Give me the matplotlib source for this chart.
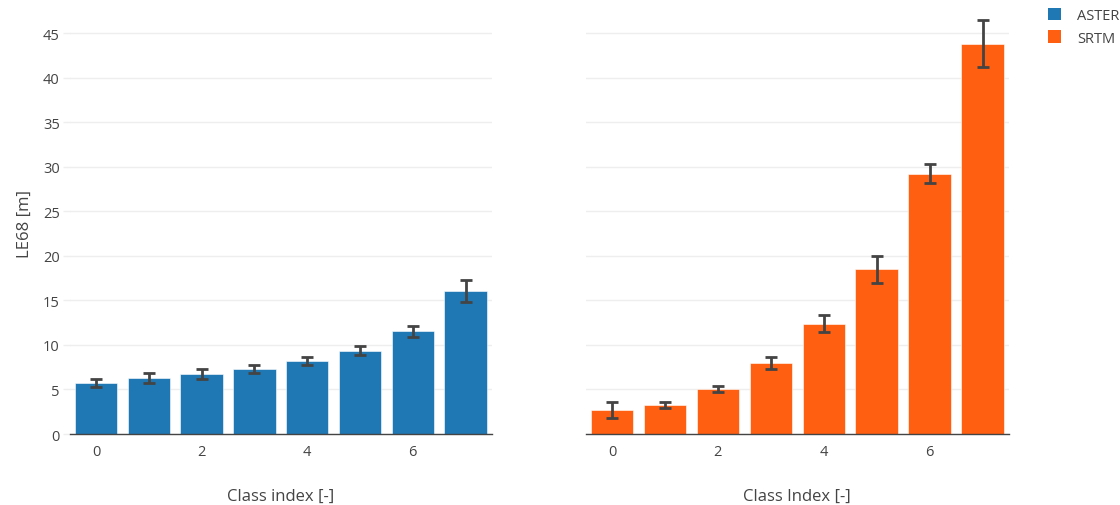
import numpy as np
import matplotlib.pyplot as plt
from matplotlib.patches import Patch

plt.rcParams['font.family'] = ['Open Sans', 'DejaVu Sans']

# Class indices and LE68 values
classes = [0, 1, 2, 3, 4, 5, 6, 7]
aster_le68 = [5.72, 6.32, 6.73, 7.33, 8.19, 9.35, 11.52, 16.05]
aster_err = [0.45, 0.58, 0.60, 0.47, 0.43, 0.50, 0.65, 1.23]
srtm_le68 = [2.69, 3.25, 5.05, 7.97, 12.38, 18.48, 29.25, 43.84]
srtm_err = [0.88, 0.37, 0.36, 0.70, 0.93, 1.50, 1.08, 2.60]

aster_color = '#1f77b4'
srtm_color = '#ff5f11'
text_color = '#444444'

fig = plt.figure(figsize=(11.2, 5.06), dpi=100)
ax1 = fig.add_axes([0.0621, 0.1403, 0.3772, 0.836])
ax2 = fig.add_axes([0.5228, 0.1403, 0.3781, 0.836])

panels = [
    (ax1, aster_le68, aster_err, aster_color, 'Class index [-]'),
    (ax2, srtm_le68, srtm_err, srtm_color, 'Class Index [-]'),
]

for ax, vals, errs, color, xlabel in panels:
    ax.bar(classes, vals, width=0.8, color=color, edgecolor='white',
           linewidth=0.4, zorder=2)
    ax.errorbar(classes, vals, yerr=errs, fmt='none', ecolor=text_color,
                elinewidth=2, capsize=4, capthick=2, zorder=3)
    ax.set_xlim(-0.5, 7.5)
    ax.set_ylim(0, 47.5)
    ax.set_yticks(np.arange(0, 46, 5))
    ax.set_xticks([0, 2, 4, 6])
    ax.grid(axis='y', color='#eeeeee', linewidth=1, zorder=0)
    ax.set_axisbelow(True)
    for side in ['top', 'right', 'left']:
        ax.spines[side].set_visible(False)
    ax.spines['bottom'].set_color(text_color)
    ax.spines['bottom'].set_linewidth(1)
    ax.tick_params(axis='x', length=0, pad=7, labelsize=10.5, colors=text_color)
    ax.tick_params(axis='y', length=5, width=1, color='#eeeeee', pad=2,
                   labelsize=10.5, labelcolor=text_color)
    ax.set_xlabel(xlabel, fontsize=12, color=text_color, labelpad=21)

ax2.tick_params(axis='y', labelleft=False, length=0)
ax1.set_ylabel('LE68 [m]', fontsize=12, color=text_color, labelpad=7)

handles = [Patch(facecolor=aster_color, label='ASTER'),
           Patch(facecolor=srtm_color, label='SRTM')]
fig.legend(handles=handles, loc='upper left', bbox_to_anchor=(0.924, 1.008),
           frameon=False, fontsize=10.5, labelcolor=text_color,
           handlelength=0.9, handleheight=0.9, handletextpad=1.1,
           labelspacing=0.5)

plt.savefig('out.png', dpi=100)
